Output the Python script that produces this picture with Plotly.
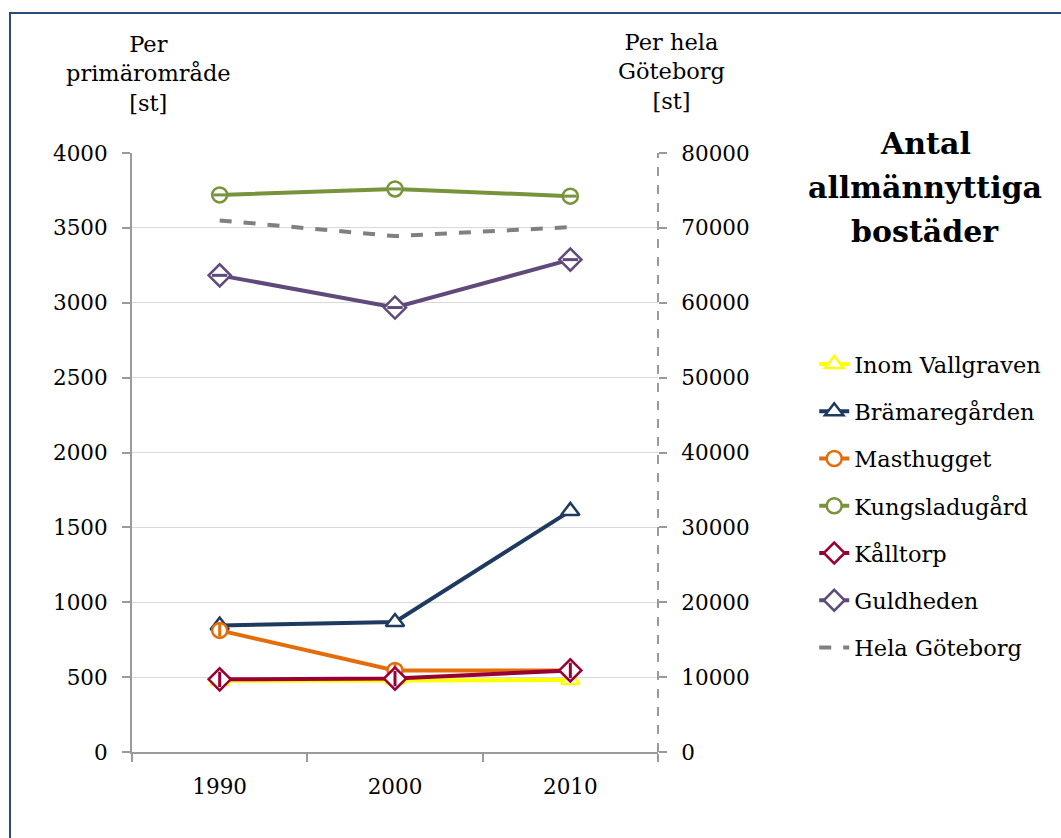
import plotly.graph_objects as go

years = ["1990", "2000", "2010"]

inom_vallgraven = [475, 480, 480]
bramaregarden = [845, 868, 1610]
masthugget = [812, 545, 545]
kungsladugard = [3720, 3760, 3712]
kalltorp = [485, 490, 545]
guldheden = [3183, 2968, 3288]
hela_goteborg = [71000, 68900, 70100]

left_ticks = [0, 500, 1000, 1500, 2000, 2500, 3000, 3500, 4000]
right_ticks = [0, 10000, 20000, 30000, 40000, 50000, 60000, 70000, 80000]

FONT = "DejaVu Serif"

# name, values, colour, marker symbol, stripe overlay symbol
series = [
    ("Inom Vallgraven", inom_vallgraven, "#FFFF00", "triangle-up", None),
    ("Brämaregården", bramaregarden, "#1F3A60", "triangle-up", None),
    ("Masthugget", masthugget, "#E46C0A", "circle", "line-ns"),
    ("Kungsladugård", kungsladugard, "#77933C", "circle", "line-ew"),
    ("Kålltorp", kalltorp, "#990033", "diamond", "line-ns"),
    ("Guldheden", guldheden, "#604A7B", "diamond", "line-ew"),
]

fig = go.Figure()

for i, (name, vals, col, sym, stripe) in enumerate(series):
    size = 17 if sym == "diamond" else (15 if sym == "circle" else 16)
    fig.add_trace(go.Scatter(
        x=years, y=vals, name=name, mode="lines+markers",
        legendgroup=f"g{i}",
        line=dict(color=col, width=4),
        marker=dict(symbol=sym, size=size, color="white",
                    line=dict(color=col, width=2.5)),
    ))
    if stripe:
        fig.add_trace(go.Scatter(
            x=years, y=vals, mode="markers", showlegend=False,
            legendgroup=f"g{i}", hoverinfo="skip",
            marker=dict(symbol=stripe, size=size - 6,
                        line=dict(color=col, width=3)),
        ))

fig.add_trace(go.Scatter(
    x=years, y=hela_goteborg, name="Hela Göteborg", mode="lines",
    legendgroup="g6", yaxis="y2",
    line=dict(color="#808080", width=4, dash="dash"),
))

axis_grey = "#9A9A9A"
TXT = 22.5

fig.update_layout(
    width=1061, height=838,
    margin=dict(l=132, r=403, t=153, b=86),
    paper_bgcolor="white", plot_bgcolor="white",
    font=dict(family=FONT, size=21, color="black"),
    showlegend=True,
    legend=dict(x=1.297, y=0.683, xanchor="left", yanchor="top",
                font=dict(family=FONT, size=TXT), tracegroupgap=15,
                bgcolor="rgba(0,0,0,0)"),
    xaxis=dict(
        type="category", range=[-0.5, 2.5],
        showline=True, linecolor=axis_grey, linewidth=2,
        ticks="outside", tickson="boundaries", ticklen=8,
        tickcolor=axis_grey, tickwidth=1.5,
        showgrid=False, ticklabelstandoff=14,
        tickfont=dict(family=FONT, size=21.5),
    ),
    yaxis=dict(
        range=[0, 4000], tickvals=left_ticks,
        showline=True, linecolor=axis_grey, linewidth=2,
        ticks="outside", ticklen=8, tickcolor=axis_grey, tickwidth=1.5,
        showgrid=True, gridcolor="#D9D9D9", gridwidth=1,
        zeroline=False, ticklabelstandoff=10,
        tickfont=dict(family=FONT, size=21.5),
    ),
    yaxis2=dict(
        range=[0, 80000], tickvals=right_ticks, tickformat="d",
        overlaying="y", side="right",
        showline=False, ticks="outside", ticklen=8, tickcolor=axis_grey,
        tickwidth=1.5, showgrid=False, zeroline=False, ticklabelstandoff=10,
        tickfont=dict(family=FONT, size=21.5),
    ),
)

# dashed right axis line
fig.add_shape(type="line", xref="paper", yref="paper", x0=1, x1=1, y0=0, y1=1,
              line=dict(color=axis_grey, width=2, dash="dash"))

# outer frame
fig.add_shape(type="rect", xref="paper", yref="paper",
              x0=(10 - 132) / 526, x1=(1070 - 132) / 526,
              y0=(752 - 845) / 599, y1=(752 - 13) / 599,
              line=dict(color="#2B4A78", width=2), layer="below")

# axis titles
fig.add_annotation(text="Per<br>primärområde<br>[st]", xref="paper", yref="paper",
                   x=(148 - 132) / 526, y=(752 - 29) / 599, xanchor="center",
                   yanchor="top", showarrow=False, align="center",
                   font=dict(family=FONT, size=TXT))
fig.add_annotation(text="Per hela<br>Göteborg<br>[st]", xref="paper", yref="paper",
                   x=(671 - 132) / 526, y=(752 - 27) / 599, xanchor="center",
                   yanchor="top", showarrow=False, align="center",
                   font=dict(family=FONT, size=TXT))

# chart title, one line at a time
for line, ypx in [("Antal", 143), ("allmännyttiga", 187), ("bostäder", 231)]:
    fig.add_annotation(text=f"<b>{line}</b>", xref="paper", yref="paper",
                       x=(925 - 132) / 526, y=(752 - ypx) / 599,
                       xanchor="center", yanchor="middle", showarrow=False,
                       font=dict(family=FONT, size=30))

fig.write_html("out.html")
